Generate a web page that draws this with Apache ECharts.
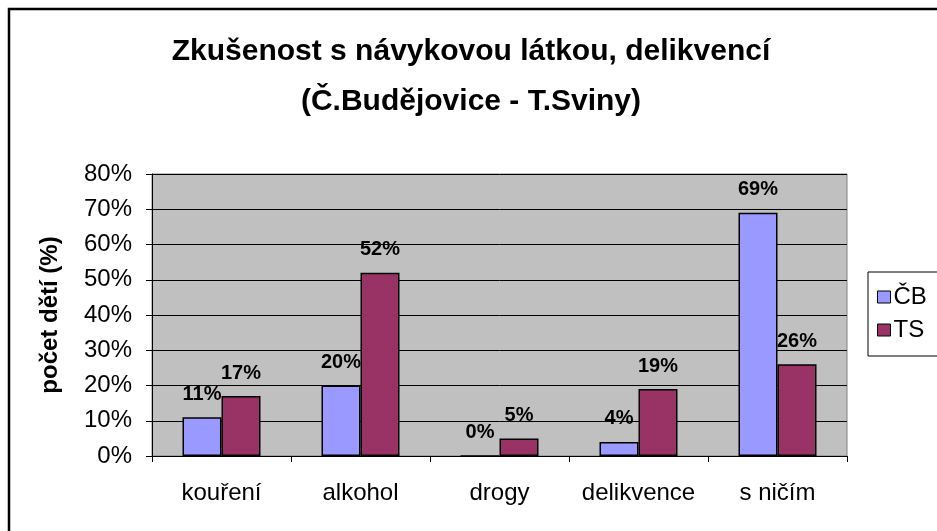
<!DOCTYPE html>
<html>
<head>
<meta charset="utf-8">
<script src="https://cdn.jsdelivr.net/npm/echarts@6/dist/echarts.min.js"></script>
<style>
  html, body { margin: 0; padding: 0; background: #fff; }
  #chart { width: 937px; height: 531px; }
</style>
</head>
<body>
<div id="chart"></div>
<script>
// kategorie a hodnoty (%)
const categories = ["kouření", "alkohol", "drogy", "delikvence", "s ničím"];
const seriesNames = ["ČB", "TS"];
const valuesCB = [11, 20, 0, 4, 69];
const valuesTS = [17, 52, 5, 19, 26];

const chart = echarts.init(document.getElementById("chart"));

const labelStyle = {
  show: true,
  position: "top",
  distance: 13,
  formatter: "{c}%",
  color: "#000",
  fontFamily: "Liberation Sans, Arial",
  fontWeight: "bold",
  fontSize: 20,
};

const option = {
  backgroundColor: "#fff",
  animation: false,
  // rámeček kolem celého grafu
  graphic: [
    {
      type: "rect",
      shape: { x: 9, y: 9, width: 1000, height: 600 },
      style: { fill: "none", stroke: "#000", lineWidth: 2.5 },
      z: 0,
    },
  ],
  title: {
    text: "Zkušenost s návykovou látkou, delikvencí\n(Č.Budějovice - T.Sviny)",
    left: 466,
    textAlign: "center",
    top: 22,
    textStyle: {
      fontFamily: "Liberation Sans, Arial",
      fontWeight: "bold",
      fontSize: 30,
      lineHeight: 50,
      color: "#000",
    },
  },
  legend: {
    data: seriesNames,
    orient: "vertical",
    left: 868,
    top: 272,
    padding: [13, 40, 14, 9],
    itemGap: 9,
    itemWidth: 13,
    itemHeight: 12,
    borderColor: "#000",
    borderWidth: 1,
    icon: "rect",
    itemStyle: { borderColor: "#000", borderWidth: 1 },
    textStyle: {
      fontFamily: "Liberation Sans, Arial",
      fontSize: 24,
      color: "#000",
      padding: [0, 0, 0, -2],
    },
  },
  grid: {
    left: 152,
    right: 90,
    top: 174,
    bottom: 75,
    show: true,
    backgroundColor: "#C0C0C0",
    borderColor: "#808080",
    borderWidth: 1,
  },
  xAxis: {
    type: "category",
    data: categories,
    axisLine: { show: true, lineStyle: { color: "#000", width: 1 } },
    axisTick: { show: true, length: 6, lineStyle: { color: "#000" } },
    axisLabel: {
      interval: 0,
      hideOverlap: false,
      margin: 25,
      color: "#000",
      fontFamily: "Liberation Sans, Arial",
      fontSize: 24,
    },
  },
  yAxis: {
    type: "value",
    min: 0,
    max: 80,
    interval: 10,
    name: "počet dětí (%)",
    nameLocation: "middle",
    nameGap: 90,
    nameTextStyle: {
      fontFamily: "Liberation Sans, Arial",
      fontWeight: "bold",
      fontSize: 24,
      color: "#000",
    },
    axisLine: { show: true, lineStyle: { color: "#000", width: 1 } },
    axisTick: { show: true, length: 6, lineStyle: { color: "#000" } },
    splitLine: { show: true, lineStyle: { color: "#000", width: 1 } },
    axisLabel: {
      formatter: "{value}%",
      margin: 20,
      color: "#000",
      fontFamily: "Liberation Sans, Arial",
      fontSize: 24,
    },
  },
  series: [
    {
      name: seriesNames[0],
      type: "bar",
      data: valuesCB,
      barWidth: 39,
      barGap: "0%",
      itemStyle: { color: "#9999FF", borderColor: "#000", borderWidth: 1.5 },
      label: labelStyle,
    },
    {
      name: seriesNames[1],
      type: "bar",
      data: valuesTS,
      barWidth: 39,
      barGap: "0%",
      itemStyle: { color: "#993366", borderColor: "#000", borderWidth: 1.5 },
      label: labelStyle,
    },
  ],
};

chart.setOption(option);
</script>
</body>
</html>
